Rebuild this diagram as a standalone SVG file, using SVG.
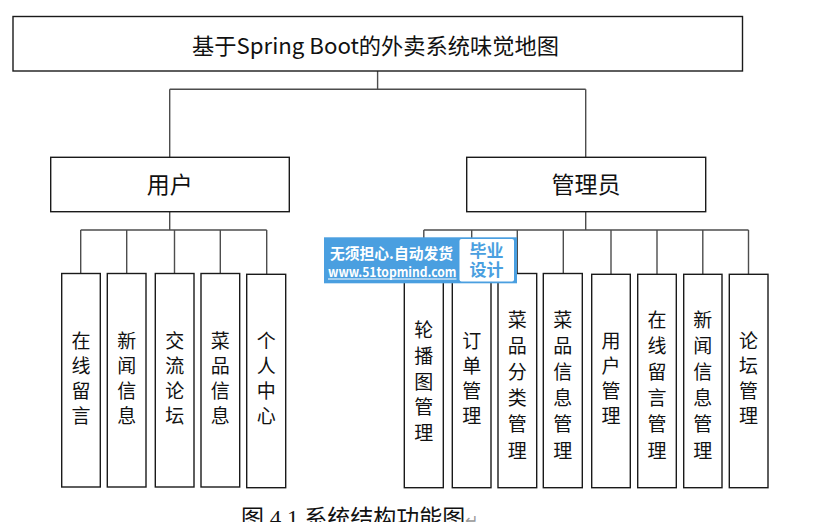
<svg xmlns="http://www.w3.org/2000/svg" width="832" height="522" viewBox="0 0 832 522">
<style>
.box{fill:#fff;stroke:#1a1a1a;stroke-width:1.4}
.conn{fill:none;stroke:#4d4d4d;stroke-width:1.4}
.t{font-family:"Noto Sans CJK SC","Noto Sans",sans-serif;fill:#111;text-anchor:middle}
.head{font-size:23px}
.leaf{font-size:19px}
.cap{font-family:"Liberation Serif","Noto Sans CJK SC",serif;font-size:23px;fill:#111}
.wm{font-family:"Noto Sans CJK SC","Noto Sans",sans-serif;font-weight:bold}
</style>
<rect width="832" height="522" fill="#fff"/>
<g id="connectors">
<path class="conn" d="M377.6 71V89.3M169.7 89.3H585.7M169.7 89.3V157.3M585.7 89.3V157.3"/>
<path class="conn" d="M169.7 211.7V230M80.7 230H266.7M80.7 230V273.5M126.7 230V273.5M174.5 230V273.5M220.3 230V273.5M266.7 230V274.3"/>
<path class="conn" d="M585.7 211.7V230M423.8 230H748.5M423.8 230V273.5M471.7 230V273.5M517.3 230V273.5M563.3 230V273.5M611 230V274.3M657 230V274.3M702.8 230V274.3M748.5 230V274.3"/>
</g>
<g id="root">
<rect class="box" x="13" y="16.5" width="729.5" height="54.5"/>
<text class="t" x="375.5" y="54" font-size="22" textLength="367" lengthAdjust="spacingAndGlyphs">基于Spring Boot的外卖系统味觉地图</text>
</g>
<g id="user">
<rect class="box" x="50.7" y="157.3" width="238.6" height="54.4"/>
<text class="t head" x="169.7" y="193">用户</text>
</g>
<g id="admin">
<rect class="box" x="466.7" y="157.3" width="239" height="54.4"/>
<text class="t head" x="586" y="193">管理员</text>
</g>
<g id="u1"><rect class="box" x="61.7" y="273.5" width="38.6" height="213.5"/>
<text class="t leaf"><tspan x="81" y="348">在</tspan><tspan x="81" y="373">线</tspan><tspan x="81" y="398">留</tspan><tspan x="81" y="423">言</tspan></text></g>
<g id="u2"><rect class="box" x="107.3" y="273.5" width="38.7" height="213.5"/>
<text class="t leaf"><tspan x="126.7" y="348">新</tspan><tspan x="126.7" y="373">闻</tspan><tspan x="126.7" y="398">信</tspan><tspan x="126.7" y="423">息</tspan></text></g>
<g id="u3"><rect class="box" x="155.3" y="273.5" width="38.7" height="213.5"/>
<text class="t leaf"><tspan x="174.7" y="348">交</tspan><tspan x="174.7" y="373">流</tspan><tspan x="174.7" y="398">论</tspan><tspan x="174.7" y="423">坛</tspan></text></g>
<g id="u4"><rect class="box" x="201" y="273.5" width="38.7" height="213.5"/>
<text class="t leaf"><tspan x="220.3" y="348">菜</tspan><tspan x="220.3" y="373">品</tspan><tspan x="220.3" y="398">信</tspan><tspan x="220.3" y="423">息</tspan></text></g>
<g id="u5"><rect class="box" x="246.7" y="274.3" width="39" height="213.4"/>
<text class="t leaf"><tspan x="266.2" y="348">个</tspan><tspan x="266.2" y="373">人</tspan><tspan x="266.2" y="398">中</tspan><tspan x="266.2" y="423">心</tspan></text></g>
<g id="a1"><rect class="box" x="404.3" y="273.5" width="39" height="214.2"/>
<text class="t leaf"><tspan x="423.8" y="337">轮</tspan><tspan x="423.8" y="362.8">播</tspan><tspan x="423.8" y="388.5">图</tspan><tspan x="423.8" y="414.3">管</tspan><tspan x="423.8" y="440">理</tspan></text></g>
<g id="a2"><rect class="box" x="452.3" y="273.5" width="38.7" height="214.2"/>
<text class="t leaf"><tspan x="471.7" y="348">订</tspan><tspan x="471.7" y="373">单</tspan><tspan x="471.7" y="398">管</tspan><tspan x="471.7" y="423">理</tspan></text></g>
<g id="a3"><rect class="box" x="498" y="273.5" width="38.7" height="214.2"/>
<text class="t leaf"><tspan x="517.3" y="327">菜</tspan><tspan x="517.3" y="353.1">品</tspan><tspan x="517.3" y="379.2">分</tspan><tspan x="517.3" y="405.3">类</tspan><tspan x="517.3" y="431.4">管</tspan><tspan x="517.3" y="457.5">理</tspan></text></g>
<g id="a4"><rect class="box" x="543.3" y="273.5" width="39" height="214.2"/>
<text class="t leaf"><tspan x="562.8" y="327">菜</tspan><tspan x="562.8" y="353.1">品</tspan><tspan x="562.8" y="379.2">信</tspan><tspan x="562.8" y="405.3">息</tspan><tspan x="562.8" y="431.4">管</tspan><tspan x="562.8" y="457.5">理</tspan></text></g>
<g id="a5"><rect class="box" x="591.7" y="274.3" width="38.6" height="213.4"/>
<text class="t leaf"><tspan x="611" y="348">用</tspan><tspan x="611" y="373">户</tspan><tspan x="611" y="398">管</tspan><tspan x="611" y="423">理</tspan></text></g>
<g id="a6"><rect class="box" x="637.7" y="274.3" width="38.6" height="213.4"/>
<text class="t leaf"><tspan x="657" y="327">在</tspan><tspan x="657" y="353.1">线</tspan><tspan x="657" y="379.2">留</tspan><tspan x="657" y="405.3">言</tspan><tspan x="657" y="431.4">管</tspan><tspan x="657" y="457.5">理</tspan></text></g>
<g id="a7"><rect class="box" x="683.7" y="274.3" width="38.3" height="213.4"/>
<text class="t leaf"><tspan x="702.8" y="327">新</tspan><tspan x="702.8" y="353.1">闻</tspan><tspan x="702.8" y="379.2">信</tspan><tspan x="702.8" y="405.3">息</tspan><tspan x="702.8" y="431.4">管</tspan><tspan x="702.8" y="457.5">理</tspan></text></g>
<g id="a8"><rect class="box" x="729.3" y="274.3" width="38.7" height="213.4"/>
<text class="t leaf"><tspan x="748.6" y="348">论</tspan><tspan x="748.6" y="373">坛</tspan><tspan x="748.6" y="398">管</tspan><tspan x="748.6" y="423">理</tspan></text></g>
<g id="watermark">
<rect x="324" y="237.3" width="193" height="46" fill="#4a9fe0"/>
<rect x="459.5" y="239" width="54.5" height="42.5" rx="2" fill="#fff"/>
<text class="wm" x="330" y="258.5" font-size="15" fill="#fff" textLength="123" lengthAdjust="spacingAndGlyphs">无须担心.自动发货</text>
<text class="wm" x="328" y="276.5" font-size="13" fill="#fff" textLength="128.5" lengthAdjust="spacingAndGlyphs">www.51topmind.com</text>
<line x1="328" y1="279" x2="456.5" y2="279" stroke="#fff" stroke-width="1"/>
<text class="wm" font-size="17" fill="#4a9fe0" text-anchor="middle" font-weight="normal"><tspan x="486.5" y="257">毕业</tspan><tspan x="486.5" y="276">设计</tspan></text>
</g>
<text class="cap" x="241" y="526">图 4.1 系统结构功能图<tspan fill="#999" font-size="16">↵</tspan></text>
</svg>
